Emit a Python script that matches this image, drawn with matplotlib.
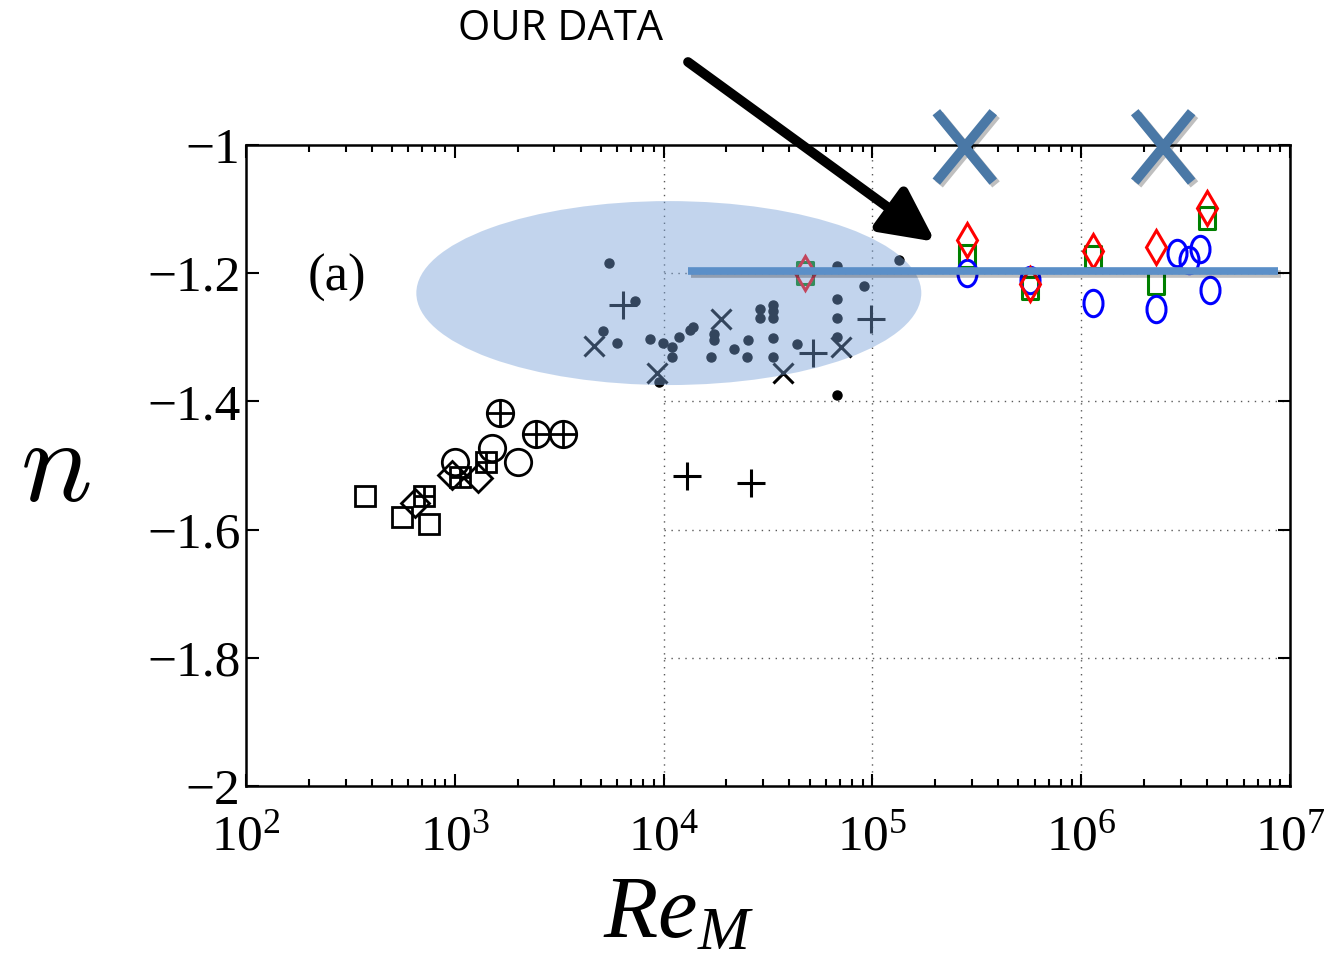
import numpy as np
import matplotlib
matplotlib.use("Agg")
import matplotlib.pyplot as plt
from matplotlib.path import Path
from matplotlib.patches import Ellipse
import matplotlib.patheffects as pe

# lower-left literature data (black open markers)
sq_x = [372, 558, 752]
sq_y = [-1.548, -1.580, -1.591]
sqp_x = [712, 1059, 1411]
sqp_y = [-1.548, -1.518, -1.495]
dia_x = [645, 970, 1291]
dia_y = [-1.559, -1.515, -1.520]
circ_x = [1002, 1507, 2009]
circ_y = [-1.495, -1.473, -1.495]
cp_x = [1646, 2448, 3297]
cp_y = [-1.418, -1.451, -1.451]

# mid cluster (dots, crosses, plus)
dot_x = [5480, 7300, 5130, 5980, 8610, 9930, 10970, 10970, 11850, 13370, 13830,
         17430, 17430, 16870, 21730, 25360, 25070, 28970, 28970, 33420, 33420,
         33420, 33420, 33420, 43550, 67650, 67650, 67650, 67650, 91200, 134000,
         9510, 67650]
dot_y = [-1.184, -1.243, -1.290, -1.309, -1.303, -1.309, -1.315, -1.331, -1.300,
         -1.289, -1.284, -1.295, -1.304, -1.331, -1.318, -1.304, -1.331, -1.256,
         -1.270, -1.250, -1.259, -1.270, -1.301, -1.331, -1.310, -1.189, -1.240,
         -1.270, -1.300, -1.220, -1.179, -1.370, -1.390]
cross_x = [4640, 9300, 18840, 37330, 70750]
cross_y = [-1.314, -1.356, -1.271, -1.356, -1.315]
plus_x = [6390, 51950, 98400, 12940, 26220]
plus_y = [-1.250, -1.324, -1.271, -1.516, -1.527]

# our data
red_x = [47550, 283800, 568500, 1.139e6, 2.281e6, 4.0e6]
red_y = [-1.200, -1.148, -1.217, -1.165, -1.159, -1.098]
grn_x = [47550, 283800, 568500, 1.139e6, 2.281e6, 4.0e6]
grn_y = [-1.200, -1.173, -1.223, -1.175, -1.215, -1.114]
blu_x = [283800, 568500, 1.139e6, 2.281e6, 2.876e6, 3.283e6, 3.707e6, 4.14e6]
blu_y = [-1.200, -1.211, -1.246, -1.256, -1.168, -1.179, -1.162, -1.226]

fit_x = [1.31e4, 8.77e6]
fit_y = [-1.197, -1.197]
bigx_x = [2.77e5, 2.47e6]
bigx_y = [-1.003, -1.003]

xticks = [1e2, 1e3, 1e4, 1e5, 1e6, 1e7]
yticks = [-2, -1.8, -1.6, -1.4, -1.2, -1]
ytick_labels = ["\u22122", "\u22121.8", "\u22121.6", "\u22121.4", "\u22121.2", "\u22121"]

plt.rcParams["font.family"] = ["Liberation Serif", "DejaVu Serif"]
plt.rcParams["mathtext.fontset"] = "custom"
plt.rcParams["mathtext.rm"] = "Liberation Serif"
plt.rcParams["mathtext.it"] = "Liberation Serif:italic"

fig = plt.figure(figsize=(13.24, 9.71), dpi=100)
ax = fig.add_axes([246/1324, 1-786/971, 1044/1324, 641/971])
ax.set_xscale("log")
ax.set_xlim(1e2, 1e7)
ax.set_ylim(-2, -1)

# partial dotted grid (right three decades only)
ax.vlines([1e4, 1e5, 1e6], -2, -1, colors="0.35", linestyles=(0, (1, 4)), lw=1.0, zorder=1)
ax.hlines([-1.2, -1.4, -1.6, -1.8], 1e4, 1e7, colors="0.35", linestyles=(0, (1, 4)), lw=1.0, zorder=1)

kw = dict(ls="none", mfc="none", mec="black", mew=2.0, zorder=3)
ax.plot(sq_x, sq_y, marker="s", ms=15, **kw)
ax.plot(sqp_x, sqp_y, marker="s", ms=15, **kw)
ax.plot(sqp_x, sqp_y, marker="+", ms=15, **kw)
ax.plot(dia_x, dia_y, marker="D", ms=14, **kw)
ax.plot(circ_x, circ_y, marker="o", ms=19, **kw)
ax.plot(cp_x, cp_y, marker="o", ms=19, **kw)
ax.plot(cp_x, cp_y, marker="+", ms=19, **kw)

ax.plot(dot_x, dot_y, ls="none", marker="o", ms=6.5, color="black", zorder=3)
ax.plot(cross_x, cross_y, ls="none", marker="x", ms=15, mew=2.2, color="black", zorder=3)
ax.plot(plus_x, plus_y, ls="none", marker="+", ms=20, mew=2.2, color="black", zorder=3)

# our data markers (tall shapes)
circ = Path.unit_circle()
ell_path = Path(circ.vertices * [0.72, 1.0], circ.codes)
rect_path = Path([(-0.38, -0.5), (0.38, -0.5), (0.38, 0.5), (-0.38, 0.5), (-0.38, -0.5)],
                 [Path.MOVETO, Path.LINETO, Path.LINETO, Path.LINETO, Path.CLOSEPOLY])
ax.plot(grn_x, grn_y, ls="none", marker=rect_path, ms=16, mfc="none", mec="#008000", mew=2.2, zorder=3)
ax.plot(blu_x, blu_y, ls="none", marker=ell_path, ms=19, mfc="none", mec="#0000ff", mew=2.2, zorder=3)
ax.plot(red_x, red_y, ls="none", marker="d", ms=17, mfc="none", mec="#ff0000", mew=2.2, zorder=3)

# translucent ellipse overlay
ell = Ellipse((0.405, 0.769), 0.4837, 0.287, transform=ax.transAxes,
              facecolor="#769fd6", edgecolor="none", alpha=0.44, zorder=4)
ax.add_patch(ell)

shadow = [pe.SimpleLineShadow(offset=(2, -2), alpha=0.25), pe.Normal()]
ax.plot(fit_x, fit_y, color="#5b8fc8", lw=5.5, solid_capstyle="butt", zorder=5, path_effects=shadow)

xm_path = Path([(-0.41, -0.5), (0.41, 0.5), (0.41, -0.5), (-0.41, 0.5)],
               [Path.MOVETO, Path.LINETO, Path.MOVETO, Path.LINETO])
ax.plot(bigx_x, bigx_y, ls="none", marker=xm_path, ms=50, mec="#4a78a6", mew=7,
        clip_on=False, zorder=6, path_effects=shadow)

# ticks and spines
for s in ax.spines.values():
    s.set_linewidth(1.8)
ax.tick_params(which="both", direction="in", top=True, right=True, width=1.5)
ax.tick_params(which="major", length=9)
ax.tick_params(which="minor", length=5)
ax.set_xticks(xticks)
ax.set_yticks(yticks)
ax.set_yticklabels(ytick_labels)
ax.tick_params(axis="x", labelsize=37, pad=20)
ax.tick_params(axis="y", labelsize=37, pad=4)

ax.text(0.087, 0.793, "(a)", transform=ax.transAxes, fontsize=38, ha="center", va="center")

fig.text(678/1324, 1-915/971, "$Re_M$", fontsize=64, ha="center", va="center")
fig.text(55/1324, 1-472/971, "$n$", fontsize=86, ha="center", va="center", math_fontfamily="cm")

fig.text(458/1324, 1-29/971, "OUR DATA", fontsize=30, family="Open Sans", ha="left", va="center")

arr = ax.annotate("", xy=(2.0e5, -1.151), xytext=(688/1324, 1-62/971), textcoords="figure fraction",
                  annotation_clip=False, zorder=7,
                  arrowprops=dict(arrowstyle="-|>", color="black", lw=7, mutation_scale=80,
                                  shrinkA=0, shrinkB=0))
arr.arrow_patch.set_path_effects([pe.SimplePatchShadow(offset=(3, -3), alpha=0.3), pe.Normal()])

fig.savefig("out.png", dpi=100)
